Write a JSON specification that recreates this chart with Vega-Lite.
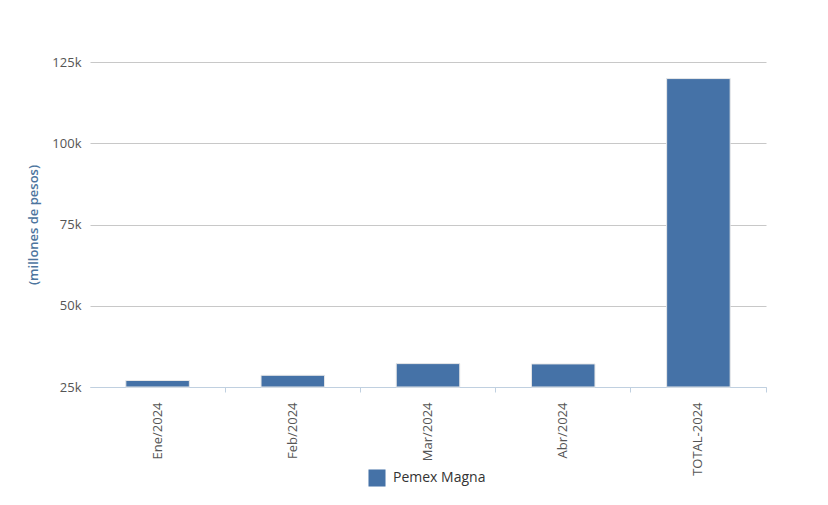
{
  "$schema": "https://vega.github.io/schema/vega-lite/v6.json",
  "width": 676,
  "height": 325,
  "autosize": "none",
  "padding": {"left": 90, "top": 62, "right": 62, "bottom": 118},
  "background": "white",
  "config": {
    "view": {"stroke": null},
    "font": "Open Sans"
  },
  "data": {
    "values": [
      {"periodo": "Ene/2024", "valor": 27000, "serie": "Pemex Magna"},
      {"periodo": "Feb/2024", "valor": 28600, "serie": "Pemex Magna"},
      {"periodo": "Mar/2024", "valor": 32200, "serie": "Pemex Magna"},
      {"periodo": "Abr/2024", "valor": 32100, "serie": "Pemex Magna"},
      {"periodo": "TOTAL-2024", "valor": 119900, "serie": "Pemex Magna"}
    ]
  },
  "layer": [
    {
      "mark": {"type": "bar", "stroke": "#e8e8e8", "strokeWidth": 1},
      "encoding": {
        "x": {
          "field": "periodo", "type": "nominal", "sort": null,
          "scale": {"paddingInner": 0.53, "paddingOuter": 0.265},
          "axis": {
            "title": null, "labelAngle": -90, "labelAlign": "right", "labelBaseline": "middle",
            "labelPadding": 15, "ticks": false, "domain": true, "domainColor": "#C0D0E0",
            "labelColor": "#555555", "labelFontSize": 13, "labelFont": "Open Sans", "grid": false
          }
        },
        "y": {
          "field": "valor", "type": "quantitative",
          "scale": {"domain": [25000, 125000], "zero": false, "nice": false},
          "axis": {
            "values": [25000, 50000, 75000, 100000, 125000],
            "labelExpr": "datum.value/1000 + 'k'",
            "title": "(millones de pesos)",
            "titleColor": "#4d759e", "titleFontSize": 13, "titleFontWeight": 600, "titleFont": "Open Sans",
            "titlePadding": 11,
            "labelColor": "#555555", "labelFontSize": 13, "labelFont": "Open Sans", "labelPadding": 9,
            "ticks": false, "domain": false, "grid": true, "gridColor": "#C8C8C8"
          }
        },
        "y2": {"datum": 25000},
        "color": {
          "field": "serie", "type": "nominal",
          "scale": {"range": ["#4572A7"]},
          "legend": {
            "title": null, "orient": "none", "legendX": 278, "legendY": 407,
            "symbolType": "square", "symbolSize": 290, "symbolStrokeWidth": 0,
            "labelFontSize": 14, "labelColor": "#333333", "labelFont": "Open Sans", "labelOffset": 7
          }
        }
      }
    },
    {
      "mark": {"type": "bar", "opacity": 0},
      "encoding": {
        "x": {
          "field": "periodo", "type": "nominal", "sort": null,
          "scale": {"paddingInner": 0, "paddingOuter": 0},
          "axis": {
            "orient": "bottom", "title": null, "labels": false, "domain": false, "grid": false,
            "ticks": true, "tickSize": 5, "tickColor": "#C0D0E0", "bandPosition": 1
          }
        },
        "y": {"field": "valor", "type": "quantitative"},
        "y2": {"datum": 25000}
      }
    }
  ],
  "resolve": {"scale": {"x": "independent"}, "axis": {"x": "independent"}}
}
